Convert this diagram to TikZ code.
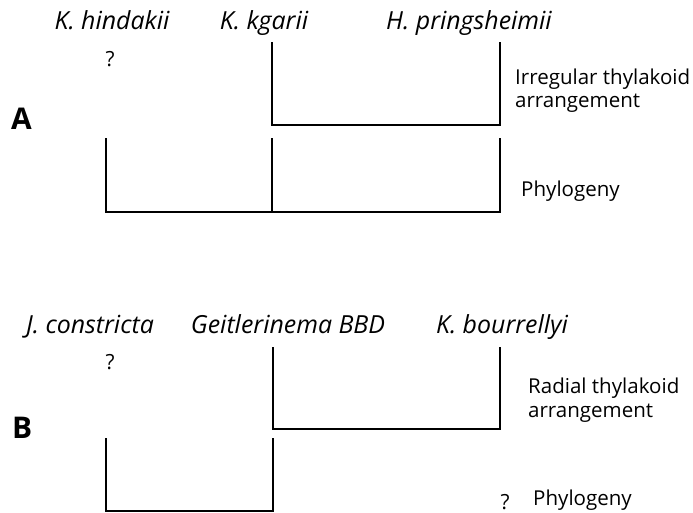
\documentclass[tikz,border=0pt]{standalone}
\usepackage{fontspec}
\setmainfont{Open Sans}
\begin{document}
\begin{tikzpicture}[x=1bp,y=-1bp,
  species/.style={font=\fontsize{25}{28}\selectfont\itshape, anchor=base, inner sep=0pt},
  trait/.style={font=\fontsize{20.6}{24}\selectfont, anchor=base west, inner sep=0pt, align=left},
  qmark/.style={font=\fontsize{21}{22}\selectfont, anchor=base, inner sep=0pt},
  panel/.style={font=\fontsize{30}{32}\selectfont\bfseries, anchor=base west, inner sep=0pt},
  branch/.style={line width=1.7bp, line cap=rect}]
\useasboundingbox (0,0) rectangle (693,513);
% ---------- Panel A ----------
\node[panel] (pA) at (11,130) {A};
\node[species] (hind) at (112,30) {K. hindakii};
\node[species] (kgar) at (264,30) {K. kgarii};
\node[species] (prin) at (469,30) {H. pringsheimii};
\node[qmark] (qA) at (110,67) {?};
% base anchor of a two-line node lies on its last line
\node[trait] (irrA) at (515,108) {Irregular thylakoid\\arrangement};
\node[trait] (phyA) at (521,197) {Phylogeny};
\coordinate (a1) at (272,43);
\coordinate (a2) at (500,43);
\coordinate (a3) at (272,125);
\coordinate (a4) at (500,125);
\coordinate (b1) at (106,139);
\coordinate (b2) at (272,139);
\coordinate (b3) at (500,139);
\coordinate (b4) at (106,212);
\coordinate (b5) at (272,212);
\coordinate (b6) at (500,212);
\draw[branch] (a1) -- (a3) -- (a4) -- (a2);
\draw[branch] (b1) -- (b4) -- (b6) -- (b3);
\draw[branch] (b2) -- (b5);
% ---------- Panel B ----------
\node[panel] (pB) at (12,438) {B};
\node[species] (jcon) at (90,333) {J. constricta};
\node[species] (geit) at (288,333) {Geitlerinema BBD};
\node[species] (bour) at (502,333) {K. bourrellyi};
\node[qmark] (qB1) at (110,369) {?};
\node[trait] (radB) at (528,417) {Radial thylakoid\\arrangement};
\node[qmark] (qB2) at (505,509) {?};
\node[trait] (phyB) at (533,505) {Phylogeny};
\coordinate (c1) at (273,348);
\coordinate (c2) at (500,348);
\coordinate (c3) at (273,429);
\coordinate (c4) at (500,429);
\coordinate (d1) at (106,439);
\coordinate (d2) at (273,439);
\coordinate (d3) at (106,511);
\coordinate (d4) at (273,511);
\draw[branch] (c1) -- (c3) -- (c4) -- (c2);
\draw[branch] (d1) -- (d3) -- (d4) -- (d2);
\end{tikzpicture}
\end{document}
